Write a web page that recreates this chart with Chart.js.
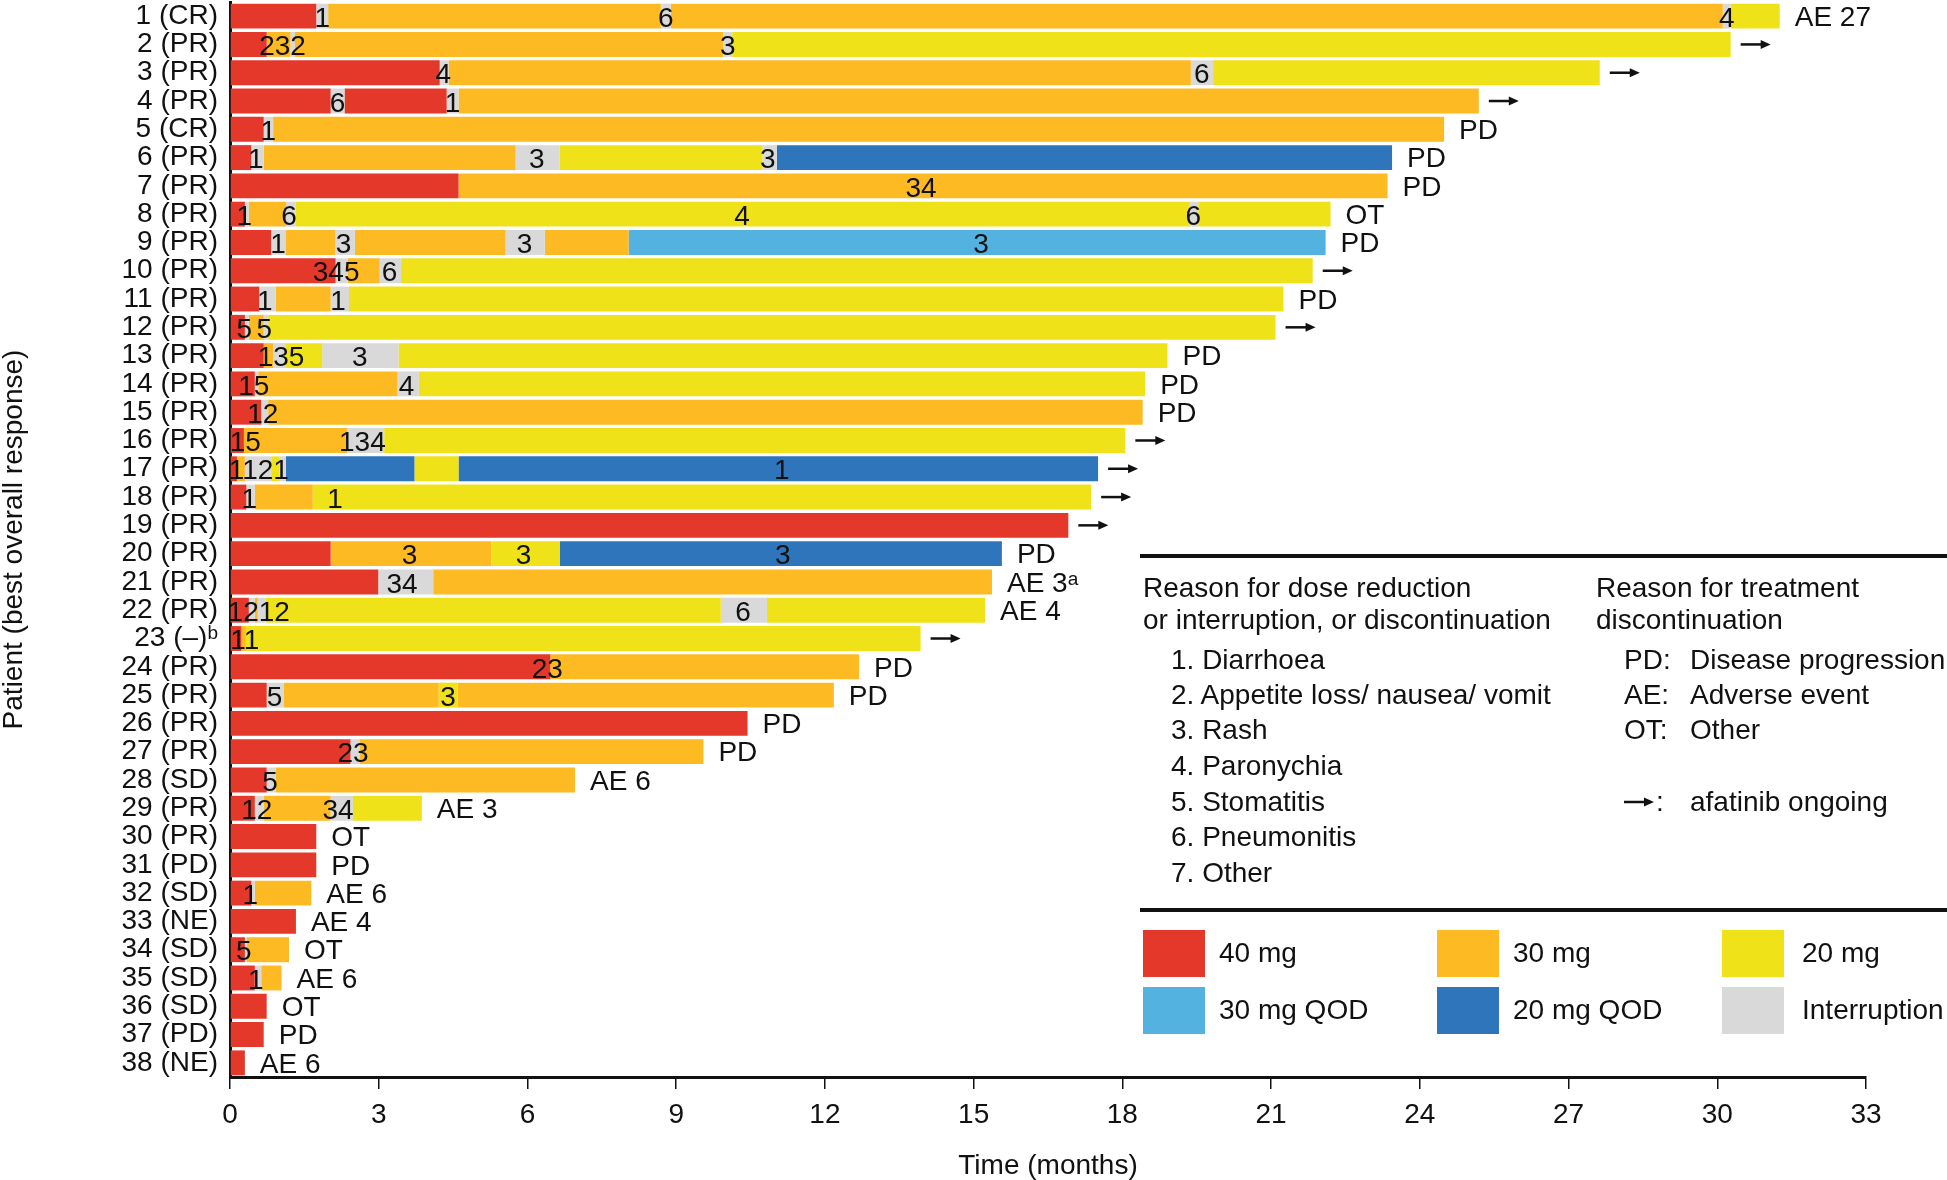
<!DOCTYPE html>
<html><head><meta charset="utf-8">
<script src="https://cdn.jsdelivr.net/npm/chart.js@4.4.1/dist/chart.umd.min.js"></script>
<style>
html,body{margin:0;padding:0;background:#fff;}
#wrap{position:relative;width:1947px;height:1180px;overflow:hidden;}
#c{position:absolute;left:0;top:0;}
.t{position:absolute;font-family:'Liberation Sans','DejaVu Sans',sans-serif;font-size:28px;line-height:32px;color:#111;white-space:nowrap;}
.rule{position:absolute;background:#111;left:1140px;width:807px;height:4px;}
.sw{position:absolute;width:62px;height:47px;}
</style></head>
<body><div id="wrap"><canvas id="c" width="1947" height="1180"></canvas>
<div class="rule" style="top:554px"></div>
<div class="t" style="left:1143px;top:572px">Reason for dose reduction</div>
<div class="t" style="left:1143px;top:604px">or interruption, or discontinuation</div>
<div class="t" style="left:1171px;top:644px">1. Diarrhoea</div>
<div class="t" style="left:1171px;top:679px">2. Appetite loss/ nausea/ vomit</div>
<div class="t" style="left:1171px;top:714px">3. Rash</div>
<div class="t" style="left:1171px;top:750px">4. Paronychia</div>
<div class="t" style="left:1171px;top:786px">5. Stomatitis</div>
<div class="t" style="left:1171px;top:821px">6. Pneumonitis</div>
<div class="t" style="left:1171px;top:857px">7. Other</div>
<div class="t" style="left:1596px;top:572px">Reason for treatment</div>
<div class="t" style="left:1596px;top:604px">discontinuation</div>
<div class="t" style="left:1624px;top:644px">PD:</div><div class="t" style="left:1690px;top:644px">Disease progression</div>
<div class="t" style="left:1624px;top:679px">AE:</div><div class="t" style="left:1690px;top:679px">Adverse event</div>
<div class="t" style="left:1624px;top:714px">OT:</div><div class="t" style="left:1690px;top:714px">Other</div>
<svg style="position:absolute;left:1624px;top:796px" width="32" height="12" aria-label="→"><line x1="0" y1="6" x2="22" y2="6" stroke="#111" stroke-width="2.5"/><polygon points="30,6 20,1.5 20,10.5" fill="#111"/></svg>
<div class="t" style="left:1656px;top:786px">:</div><div class="t" style="left:1690px;top:786px">afatinib ongoing</div>
<div class="rule" style="top:908px"></div>
<div class="sw" style="left:1143px;top:930px;background:#E3382A"></div><div class="t" style="left:1219px;top:937px">40 mg</div>
<div class="sw" style="left:1437px;top:930px;background:#FDBA22"></div><div class="t" style="left:1513px;top:937px">30 mg</div>
<div class="sw" style="left:1722px;top:930px;background:#F0E219"></div><div class="t" style="left:1802px;top:937px">20 mg</div>
<div class="sw" style="left:1143px;top:987px;background:#53B2DF"></div><div class="t" style="left:1219px;top:994px">30 mg QOD</div>
<div class="sw" style="left:1437px;top:987px;background:#2F75BB"></div><div class="t" style="left:1513px;top:994px">20 mg QOD</div>
<div class="sw" style="left:1722px;top:987px;background:#D9D9D9"></div><div class="t" style="left:1802px;top:994px">Interruption</div>
</div>
<script>
// ---- data ----
const patients = ['1 (CR)','2 (PR)','3 (PR)','4 (PR)','5 (CR)','6 (PR)','7 (PR)','8 (PR)','9 (PR)','10 (PR)',
 '11 (PR)','12 (PR)','13 (PR)','14 (PR)','15 (PR)','16 (PR)','17 (PR)','18 (PR)','19 (PR)','20 (PR)',
 '21 (PR)','22 (PR)','23 (–)ᵇ','24 (PR)','25 (PR)','26 (PR)','27 (PR)','28 (SD)','29 (PR)','30 (PR)',
 '31 (PD)','32 (SD)','33 (NE)','34 (SD)','35 (SD)','36 (SD)','37 (PD)','38 (NE)'];

// dose codes: A=40 mg, B=30 mg, C=20 mg, D=30 mg QOD, E=20 mg QOD, G=interruption
const segDose = ['AGBGBGC','ABGBGC','AGBGC','AGAGB','AGB','AGBGCGE','AB','AGBGCGC','AGBGBGBD','AGBGC',
 'AGBGC','AGBGC','ABGCGC','AGBGC','AGB','ABGC','ABGCGECE','AGBC','A','ABCE',
 'AGB','AGBGCGC','ABC','AB','AGBCB','A','AGB','AGB','AGBGC','A',
 'A','AGB','A','AGB','AGB','A','A','A'];

// end time (months) of each segment
const segEnd = [
 [1.74,1.98,8.69,8.89,30.11,30.27,31.26],
 [0.74,1.22,1.31,9.95,10.13,30.27],
 [4.23,4.41,19.38,19.83,27.63],
 [2.03,2.31,4.37,4.61,25.19],
 [0.68,0.87,24.49],
 [0.43,0.68,5.76,6.65,10.74,11.03,23.44],
 [4.61,23.35],
 [0.30,0.38,1.13,1.32,19.36,19.53,22.2],
 [0.83,1.13,2.12,2.52,5.56,6.35,8.04,22.1],
 [2.13,2.37,3.02,3.45,21.84],
 [0.59,0.92,2.03,2.40,21.25],
 [0.30,0.38,0.68,0.77,21.09],
 [0.68,0.87,1.13,1.86,3.40,18.91],
 [0.50,0.57,3.38,3.81,18.46],
 [0.63,0.77,18.41],
 [0.28,2.36,3.11,18.06],
 [0.14,0.30,0.83,0.99,1.13,3.72,4.61,17.51],
 [0.33,0.50,1.67,17.37],
 [16.91],
 [2.03,5.27,6.65,15.57],
 [2.99,4.10,15.37],
 [0.38,0.50,0.56,0.72,9.90,10.83,15.23],
 [0.23,0.32,13.93],
 [6.46,12.69],
 [0.74,1.08,4.21,4.59,12.18],
 [10.44],
 [2.43,2.61,9.55],
 [0.74,0.92,6.96],
 [0.50,0.68,2.03,2.48,3.87],
 [1.74],
 [1.74],
 [0.43,0.50,1.64],
 [1.33],
 [0.30,0.34,1.19],
 [0.50,0.63,1.04],
 [0.74],
 [0.68],
 [0.30]
];

// reason for discontinuation (null = afatinib ongoing)
const endReason = ['AE 27',null,null,null,'PD','PD','PD','OT','PD',null,
 'PD',null,'PD','PD','PD',null,null,null,null,'PD',
 'AE 3ᵃ','AE 4',null,'PD','PD','PD','PD','AE 6','AE 3','OT',
 'PD','AE 6','AE 4','OT','AE 6','OT','PD','AE 6'];

// reason codes for dose reduction / interruption
const labelPatient = [1,1,1, 2,2, 3,3, 4,4, 5, 6,6,6, 7, 8,8,8,8, 9,9,9,9, 10,10, 11,11, 12,12, 13,13, 14,14, 15, 16,16, 17,17, 18,18,
 20,20,20, 21, 22,22, 23, 24, 25,25, 27, 28, 29,29, 32, 34, 35];
const labelTime = [1.86,8.79,30.19, 1.06,10.04, 4.3,19.6, 2.17,4.49, 0.77, 0.52,6.19,10.85, 13.94, 0.29,1.19,10.33,19.43, 0.97,2.29,5.94,15.15, 2.14,3.22, 0.70,2.18, 0.29,0.69, 1.03,2.62, 0.48,3.56, 0.66, 0.31,2.67, 0.58,11.13, 0.39,2.12,
 3.62,5.92,11.15, 3.47, 0.58,10.35, 0.3, 6.4, 0.9,4.4, 2.48, 0.81, 0.54,2.18, 0.41, 0.28, 0.52];
const labelText = ['1','6','4', '232','3', '4','6', '6','1', '1', '1','3','3', '34', '1','6','4','6', '1','3','3','3', '345','6', '1','1', '5','5', '135','3', '15','4', '12', '15','134', '1121','1', '1','1',
 '3','3','3', '34', '1212','6', '11', '23', '5','3', '23', '5', '12','34', '1', '5', '1'];

const xTicksMax = 33, xTickStep = 3;

// ---- chart ----
const FONT = "'Liberation Sans','DejaVu Sans',sans-serif";
Chart.defaults.font.family = FONT;
const colorOf = {A:'#E3382A',B:'#FDBA22',C:'#F0E219',D:'#53B2DF',E:'#2F75BB',G:'#D9D9D9'};
const maxSeg = Math.max(...segDose.map(s=>s.length));
const datasets = [];
for (let k=0;k<maxSeg;k++){
  datasets.push({
    data: patients.map((_,i)=> k<segDose[i].length ? [k===0?0:segEnd[i][k-1], segEnd[i][k]] : null),
    backgroundColor: patients.map((_,i)=> k<segDose[i].length ? colorOf[segDose[i][k]] : 'rgba(0,0,0,0)'),
    borderWidth:0, borderSkipped:false, grouped:false, barPercentage:0.88, categoryPercentage:1
  });
}

const annot = {
  id:'annot',
  afterDatasetsDraw(chart){
    const {ctx, scales:{x,y}} = chart;
    ctx.save();
    ctx.fillStyle = '#111'; ctx.strokeStyle = '#111';
    ctx.font = "28px " + FONT;
    ctx.textBaseline = 'middle';
    ctx.textAlign = 'center';
    for (let i=0;i<labelText.length;i++){
      ctx.fillText(labelText[i], x.getPixelForValue(labelTime[i]), y.getPixelForValue(labelPatient[i]-1)+3);
    }
    ctx.textAlign = 'left';
    for (let i=0;i<patients.length;i++){
      const ends = segEnd[i];
      const px = x.getPixelForValue(ends[ends.length-1]);
      const py = y.getPixelForValue(i);
      if (endReason[i]) {
        ctx.fillText(endReason[i], px+15, py+2);
      } else {
        ctx.lineWidth = 2.5;
        ctx.beginPath(); ctx.moveTo(px+10, py); ctx.lineTo(px+32, py); ctx.stroke();
        ctx.beginPath(); ctx.moveTo(px+40, py); ctx.lineTo(px+30, py-4.5); ctx.lineTo(px+30, py+4.5); ctx.closePath(); ctx.fill();
      }
    }
    ctx.restore();
  }
};

new Chart(document.getElementById('c'), {
  type:'bar',
  data:{labels:patients, datasets},
  plugins:[annot],
  options:{
    responsive:false, animation:false, devicePixelRatio:1,
    indexAxis:'y',
    layout:{padding:{left:0,right:81,top:2,bottom:0}},
    plugins:{legend:{display:false}, tooltip:{enabled:false}},
    scales:{
      x:{type:'linear', min:0, max:xTicksMax,
        ticks:{stepSize:xTickStep, color:'#111', font:{size:28}, padding:9, maxRotation:0},
        grid:{display:true, drawOnChartArea:false, drawTicks:true, tickLength:12, color:'#111', lineWidth:1.5},
        border:{display:true, color:'#111', width:3},
        title:{display:true, text:'Time (months)', color:'#111', font:{size:28, lineHeight:1}, padding:0},
        afterFit(s){ s.height = 103; s.paddingLeft = 0; }
      },
      y:{type:'category',
        ticks:{color:'#111', font:{size:28}, padding:12, autoSkip:false},
        grid:{display:false, drawTicks:false},
        border:{display:true, color:'#111', width:3},
        title:{display:true, text:'Patient (best overall response)', color:'#111', font:{size:28, lineHeight:1}, padding:0},
        afterFit(s){ s.width = 230; s.paddingTop = 0; s.paddingBottom = 0; }
      }
    }
  }
});
</script>
</body></html>
